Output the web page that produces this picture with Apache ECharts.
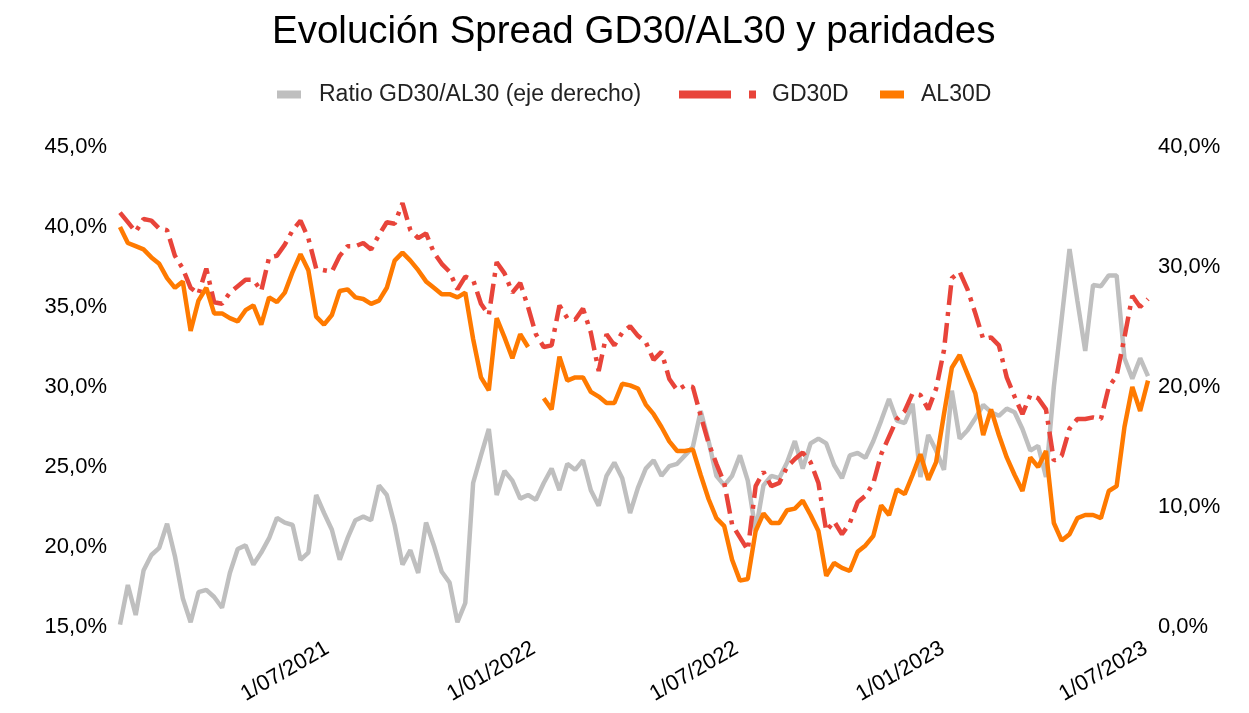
<!DOCTYPE html>
<html>
<head>
<meta charset="utf-8">
<script src="https://cdn.jsdelivr.net/npm/echarts@6/dist/echarts.min.js"></script>
<style>html,body{margin:0;padding:0;background:#fff}#c{width:1249px;height:713px}</style>
</head>
<body>
<div id="c"></div>
<script>
// Weekly observations starting on this date (one value per week)
const startDate = '2020-12-28';
const endDate = '2023-07-03';
const tickDates = ['2021-07-01', '2022-01-01', '2022-07-01', '2023-01-01', '2023-07-01'];

// Ratio GD30/AL30 (right axis, %)
const ratio = [0.2,3.5,1.0,4.7,6.0,6.6,8.6,5.9,2.4,0.4,
  2.9,3.1,2.5,1.6,4.5,6.5,6.8,5.2,6.2,7.4,
  9.1,8.7,8.5,5.6,6.2,11.0,9.5,8.1,5.6,7.4,
  8.9,9.2,8.9,11.8,11.0,8.5,5.2,6.4,4.5,8.7,
  6.8,4.6,3.7,0.4,2.0,12.0,14.3,16.5,11.0,13.0,
  12.2,10.7,11.0,10.6,12.0,13.2,11.4,13.6,13.1,13.9,
  11.4,10.1,12.6,13.7,12.4,9.5,11.6,13.2,13.9,12.6,
  13.4,13.6,14.3,15.0,18.0,15.5,12.6,11.8,12.6,14.3,
  12.2,8.0,11.8,12.6,12.4,13.7,15.5,13.2,15.3,15.7,
  15.3,13.5,12.4,14.3,14.5,14.1,15.5,17.2,19.0,17.2,
  17.0,18.6,12.5,16.0,14.7,13.1,19.7,15.7,16.4,17.4,
  18.5,17.9,17.6,18.2,17.9,16.5,14.7,15.1,12.5,20.0,
  25.7,31.5,27.2,23.0,28.5,28.4,29.3,29.3,22.4,20.7,
  22.4,20.9];

// GD30D parity (left axis, %)
const gd30d = [40.9,40.3,39.7,40.5,40.4,39.9,39.8,38.2,37.4,36.2,
  35.8,37.4,35.3,35.2,35.9,36.3,36.7,36.7,36.0,38.1,
  38.2,38.9,39.8,40.4,39.3,37.4,37.3,37.2,38.2,38.8,
  38.8,39.0,38.6,39.5,40.3,40.2,41.5,39.8,39.3,39.6,
  38.4,37.7,37.2,36.1,36.9,36.7,35.2,34.5,37.8,37.1,
  35.9,36.5,35.0,33.3,32.5,32.6,35.1,34.3,34.2,34.9,
  33.4,31.0,33.3,32.6,33.4,33.8,33.2,32.8,31.7,32.2,
  30.5,29.8,30.1,30.0,28.2,26.5,25.2,24.0,21.4,20.6,
  19.8,23.8,24.7,23.8,24.0,25.0,25.5,25.9,25.3,24.0,
  21.0,21.6,20.8,21.5,22.8,23.2,24.0,25.8,26.9,28.0,
  28.5,29.6,29.5,28.6,29.9,32.3,36.8,37.2,36.1,34.6,
  33.0,33.1,32.6,30.6,29.4,28.3,29.5,29.3,28.6,25.4,
  25.7,27.4,28.0,28.0,28.1,28.0,30.0,30.7,33.1,35.7,
  35.0,35.5];

// AL30D parity (left axis, %)
const al30d = [40.0,39.0,38.8,38.6,38.1,37.7,36.8,36.2,36.6,33.5,
  35.4,36.2,34.6,34.6,34.3,34.1,34.8,35.1,33.9,35.6,
  35.3,35.9,37.2,38.3,37.3,34.4,33.9,34.5,36.0,36.1,
  35.6,35.5,35.2,35.4,36.2,37.9,38.4,37.9,37.3,36.6,
  36.2,35.8,35.8,35.6,35.9,33.0,30.6,29.8,34.3,33.1,
  31.8,33.3,32.5,null,29.3,28.6,31.9,30.4,30.6,30.6,
  29.7,29.4,29.0,29.0,30.2,30.1,29.9,28.9,28.3,27.5,
  26.6,26.0,26.0,26.1,24.5,23.0,21.8,21.3,19.2,17.9,
  18.0,21.0,22.1,21.5,21.5,22.3,22.4,22.9,22.0,21.0,
  18.2,19.0,18.7,18.5,19.7,20.1,20.7,22.6,22.0,23.6,
  23.3,24.5,25.8,24.2,25.3,28.3,31.2,32.0,30.8,29.6,
  27.0,28.6,27.0,25.6,24.5,23.5,25.6,25.0,26.0,21.5,
  20.4,20.8,21.8,22.0,22.0,21.8,23.5,23.8,27.5,30.0,
  28.5,30.4];

function toTime(s) { const p = s.split('-').map(Number); return new Date(p[0], p[1] - 1, p[2]).getTime(); }
function weeklyDates(start, n) {
  const p = start.split('-').map(Number);
  const out = [];
  for (let i = 0; i < n; i++) out.push(new Date(p[0], p[1] - 1, p[2] + 7 * i).getTime());
  return out;
}
const dates = weeklyDates(startDate, ratio.length);
const pair = arr => arr.map((v, i) => [dates[i], v]);
const pct = v => v.toFixed(1).replace('.', ',') + '%';
const FONT = "'Liberation Sans', Arial, sans-serif";

const chart = echarts.init(document.getElementById('c'), null, { renderer: 'canvas' });
chart.setOption({
  animation: false,
  backgroundColor: '#fff',
  textStyle: { fontFamily: FONT, color: '#000' },
  title: {
    text: 'Evolución Spread GD30/AL30 y paridades',
    left: 267, top: 8,
    textStyle: { fontFamily: FONT, fontSize: 38.5, fontWeight: 'normal', color: '#000' }
  },
  legend: [
    { data: [{ name: 'Ratio GD30/AL30 (eje derecho)', icon: 'rect' }], left: 272, top: 78,
      itemWidth: 24, itemHeight: 8,
      textStyle: { fontFamily: FONT, fontSize: 23, color: '#222', padding: [0, 0, 0, 13] } },
    { data: [{ name: 'GD30D', icon: 'path://M0,0H52V8H0Z M70,0H77V8H70Z' }], left: 674, top: 78,
      itemWidth: 77, itemHeight: 8,
      textStyle: { fontFamily: FONT, fontSize: 23, color: '#222', padding: [0, 0, 0, 11] } },
    { data: [{ name: 'AL30D', icon: 'rect' }], left: 875, top: 78,
      itemWidth: 24, itemHeight: 8,
      textStyle: { fontFamily: FONT, fontSize: 23, color: '#222', padding: [0, 0, 0, 12] } }
  ],
  grid: { left: 120, right: 101, top: 147, bottom: 86, containLabel: false },
  xAxis: {
    type: 'value',
    min: toTime(startDate), max: toTime(endDate),
    axisLine: { show: false }, axisTick: { show: false }, splitLine: { show: false },
    axisLabel: {
      customValues: tickDates.map(toTime),
      rotate: 30, margin: 20, fontSize: 22, color: '#000', fontFamily: FONT,
      formatter: v => { const d = new Date(v); return d.getDate() + '/' + String(d.getMonth() + 1).padStart(2, '0') + '/' + d.getFullYear(); }
    }
  },
  yAxis: [
    { type: 'value', min: 15, max: 45, interval: 5, position: 'left',
      axisLine: { show: false }, axisTick: { show: false }, splitLine: { show: false },
      axisLabel: { formatter: pct, fontSize: 22, color: '#000', margin: 13, fontFamily: FONT } },
    { type: 'value', min: 0, max: 40, interval: 10, position: 'right',
      axisLine: { show: false }, axisTick: { show: false }, splitLine: { show: false },
      axisLabel: { formatter: pct, fontSize: 22, color: '#000', margin: 10, fontFamily: FONT } }
  ],
  series: [
    { name: 'Ratio GD30/AL30 (eje derecho)', type: 'line', yAxisIndex: 1, data: pair(ratio),
      showSymbol: false, symbol: 'none', color: '#BFBFBF',
      lineStyle: { width: 4.5, color: '#BFBFBF' }, z: 1 },
    { name: 'GD30D', type: 'line', yAxisIndex: 0, data: pair(gd30d),
      showSymbol: false, symbol: 'none', color: '#E8443A',
      lineStyle: { width: 4.5, color: '#E8443A', type: [20, 7, 4, 7], cap: 'butt' }, z: 2 },
    { name: 'AL30D', type: 'line', yAxisIndex: 0, data: pair(al30d), connectNulls: false,
      showSymbol: false, symbol: 'none', color: '#FF7A00',
      lineStyle: { width: 4.5, color: '#FF7A00' }, z: 3 }
  ]
});
</script>
</body>
</html>
